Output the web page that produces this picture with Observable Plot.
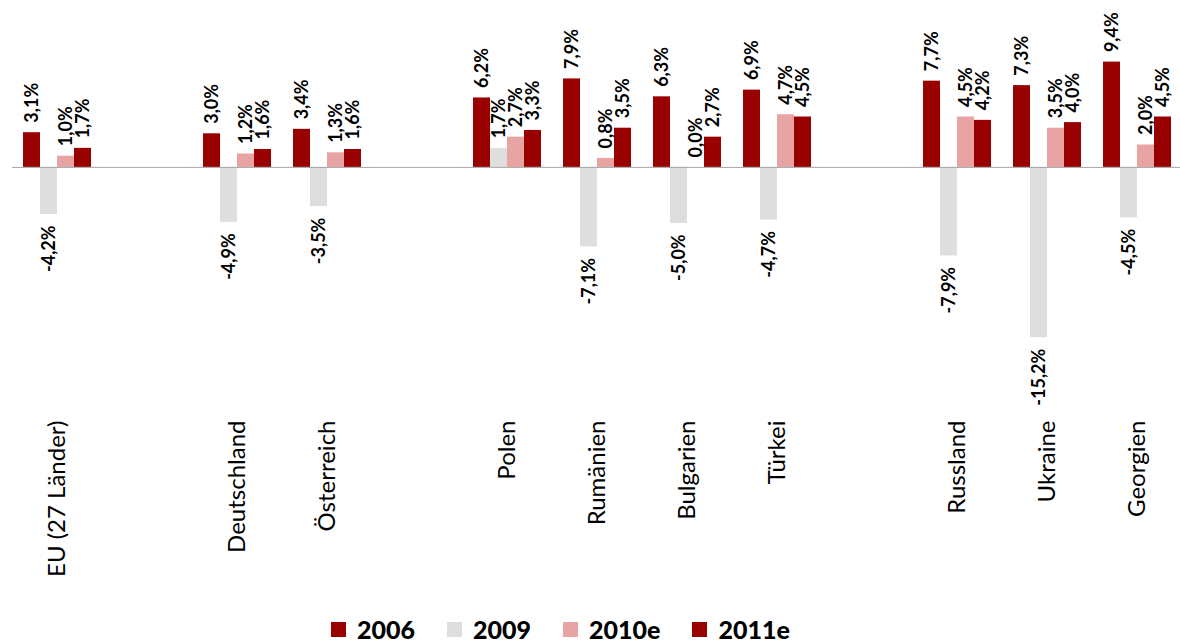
<!DOCTYPE html>
<html>
<head>
<meta charset="utf-8">
<script src="https://cdn.jsdelivr.net/npm/d3@7"></script>
<script src="https://cdn.jsdelivr.net/npm/@observablehq/plot@0.6"></script>
<style>
  html, body { margin: 0; padding: 0; background: #fff; }
  #wrap { position: relative; width: 1180px; height: 644px; overflow: hidden; }
  #legend { position: absolute; left: 331px; top: 617px; height: 25px; display: flex; align-items: center;
    font-family: Lato, "Open Sans", sans-serif; font-weight: 900; font-size: 25px; line-height: 25px; color: #000; }
  .item { display: flex; align-items: center; margin-right: 32px; }
  .sw { width: 15px; height: 15px; margin-right: 11px; }
</style>
</head>
<body>
<div id="wrap">
  <div id="chart"></div>
  <div id="legend"></div>
</div>
<script>
const series = ["2006", "2009", "2010e", "2011e"];
const slots = ["EU (27 Länder)", " ", "Deutschland", "Österreich", "  ", "Polen", "Rumänien", "Bulgarien", "Türkei", "   ", "Russland", "Ukraine", "Georgien"];
const countries = ["EU (27 Länder)", "Deutschland", "Österreich", "Polen", "Rumänien", "Bulgarien", "Türkei", "Russland", "Ukraine", "Georgien"];
const v2006  = [3.1, 3.0, 3.4, 6.2, 7.9, 6.3, 6.9, 7.7, 7.3, 9.4];
const v2009  = [-4.2, -4.9, -3.5, 1.7, -7.1, -5.0, -4.7, -7.9, -15.2, -4.5];
const v2010e = [1.0, 1.2, 1.3, 2.7, 0.8, 0.0, 4.7, 4.5, 3.5, 2.0];
const v2011e = [1.7, 1.6, 1.6, 3.3, 3.5, 2.7, 4.5, 4.2, 4.0, 4.5];
const colors = ["#990000", "#dedede", "#e8a3a3", "#990000"];

const values = [v2006, v2009, v2010e, v2011e];
const data = countries.flatMap((c, i) => series.map((s, j) => ({country: c, series: s, value: values[j][i]})));
const fmt = d => d3.format(".1f")(d).replace(".", ",").replace("\u2212", "-") + "%";

const chart = Plot.plot({
  width: 1180,
  height: 610,
  marginTop: 0,
  marginBottom: 200,
  marginLeft: 10,
  marginRight: -4,
  style: {fontFamily: "Lato, 'Open Sans', sans-serif", fontSize: "24px", color: "#000", background: "#fff", overflow: "visible"},
  fx: {domain: slots, paddingInner: 0, paddingOuter: 0, label: null, axis: "bottom", tickSize: 0, tickPadding: 10, tickRotate: -90},
  x: {domain: series, paddingInner: 0, paddingOuter: 0.58, axis: null},
  y: {domain: [-21.7, 14.9], axis: null},
  color: {domain: series, range: colors},
  marks: [
    Plot.barY(data, {fx: "country", x: "series", y1: 0, y2: "value", fill: "series"}),
    Plot.ruleY(slots, {fx: d => d, y: 0, stroke: "#a6a6a6", strokeWidth: 1}),
    Plot.text(data.filter(d => d.value >= 0), {fx: "country", x: "series", y: "value", text: d => fmt(d.value),
      rotate: -90, textAnchor: "start", dy: -10, fontWeight: "bold", fontSize: 18, fill: "#000"}),
    Plot.text(data.filter(d => d.value < 0), {fx: "country", x: "series", y: "value", text: d => fmt(d.value),
      rotate: -90, textAnchor: "end", dy: 11, fontWeight: "bold", fontSize: 18, fill: "#000"})
  ]
});
document.getElementById("chart").appendChild(chart);

const legend = document.getElementById("legend");
series.forEach((s, i) => {
  const item = document.createElement("div");
  item.className = "item";
  const sw = document.createElement("div");
  sw.className = "sw";
  sw.style.background = colors[i];
  const t = document.createElement("span");
  t.textContent = s;
  item.appendChild(sw);
  item.appendChild(t);
  legend.appendChild(item);
});
</script>
</body>
</html>
